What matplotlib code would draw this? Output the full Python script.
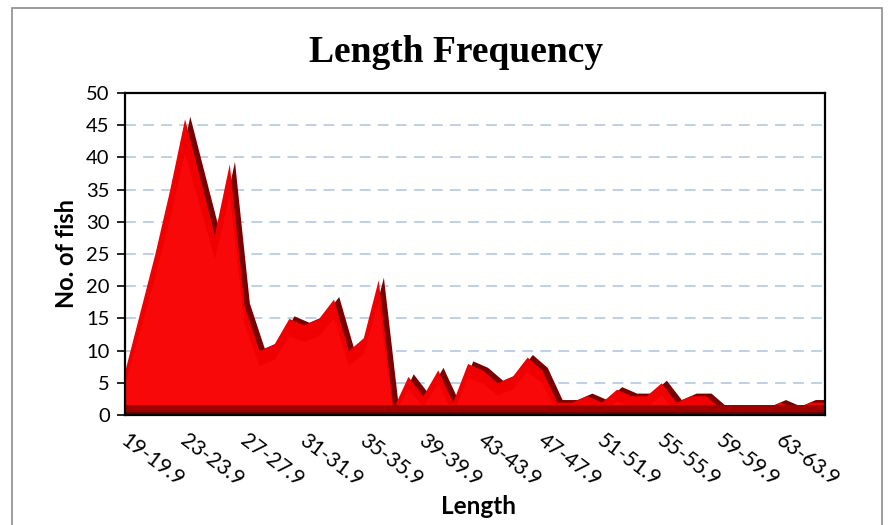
import matplotlib
matplotlib.use("Agg")
import matplotlib.pyplot as plt
import numpy as np
from matplotlib.patches import Rectangle
from matplotlib.transforms import ScaledTranslation

categories = ["19-19.9", "20-20.9", "21-21.9", "22-22.9", "23-23.9", "24-24.9", "25-25.9", "26-26.9",
              "27-27.9", "28-28.9", "29-29.9", "30-30.9", "31-31.9", "32-32.9", "33-33.9", "34-34.9",
              "35-35.9", "36-36.9", "37-37.9", "38-38.9", "39-39.9", "40-40.9", "41-41.9", "42-42.9",
              "43-43.9", "44-44.9", "45-45.9", "46-46.9", "47-47.9", "48-48.9", "49-49.9", "50-50.9",
              "51-51.9", "52-52.9", "53-53.9", "54-54.9", "55-55.9", "56-56.9", "57-57.9", "58-58.9",
              "59-59.9", "60-60.9", "61-61.9", "62-62.9", "63-63.9", "64-64.9", "65-65.9", "66-66.9"]
counts = [7, 16, 25, 35, 46, 37, 28, 39, 17, 10, 11, 15, 14, 15, 18, 10,
          12, 21, 1, 6, 3, 7, 2, 8, 7, 5, 6, 9, 7, 2, 2, 3,
          2, 4, 3, 3, 5, 2, 3, 3, 1, 1, 1, 1, 2, 1, 2, 2]
yticks = [0, 5, 10, 15, 20, 25, 30, 35, 40, 45, 50]

W, H = 888, 525
fig = plt.figure(figsize=(W / 100, H / 100), dpi=100)
ax = fig.add_axes([125 / W, (H - 415) / H, 700 / W, 322 / H])

x = np.arange(len(counts))
y = np.array(counts, dtype=float)

# grid
for v in yticks[1:-1]:
    ax.axhline(v, color="#B9CDE5", lw=1.3, ls=(0, (6, 4)), zorder=0)

# dark side (3D depth) drawn behind, shifted
ax.fill_between(x + 0.35, 0, y + 0.4, color="#7A0000", lw=0, zorder=1)
# main front face
ax.fill_between(x, 0, y, color="#F00000", lw=0, zorder=2)
# subtle lighter inner face
ax.fill_between(x, 0, np.maximum(y - 1.6, 0) * 0.92, color="#F80808", lw=0, zorder=3)
# floor band
ax.fill_between([0, len(counts) - 1], 0, 1.5, color="#9E0000", lw=0, zorder=4)
ax.fill_between([0, len(counts) - 1], 0, 0.45, color="#6A0000", lw=0, zorder=5)

ax.set_xlim(0, len(counts) - 1)
ax.set_ylim(0, 50)
ax.set_yticks(yticks)
ax.set_yticklabels([str(v) for v in yticks], fontsize=14.5, family="Lato")
ax.tick_params(axis="y", direction="out", length=6, width=1.2, pad=5)

ticks_idx = list(range(0, len(counts), 4))
ax.set_xticks(ticks_idx)
ax.set_xticklabels([categories[i] for i in ticks_idx], fontsize=15, family="Lato",
                   rotation=-37, ha="left", va="top", rotation_mode="anchor")
ax.tick_params(axis="x", length=0, pad=11)
offset = ScaledTranslation(4 / 100, 0, fig.dpi_scale_trans)
for lbl in ax.get_xticklabels():
    lbl.set_transform(lbl.get_transform() + offset)

for s in ax.spines.values():
    s.set_color("black")
    s.set_linewidth(1.6)
    s.set_zorder(10)

ax.set_ylabel("No. of fish", fontsize=17, fontweight="bold", family="Lato", labelpad=6)
fig.text(478 / W, 1 - 507 / H, "Length", fontsize=17.5, fontweight="bold", family="Lato",
         ha="center", va="center")
fig.text(456 / W, 1 - 52 / H, "Length Frequency", fontsize=27, fontweight="bold",
         family="Liberation Serif", ha="center", va="center")

# outer chart frame
fig.patches.append(Rectangle((12 / W, -0.05), (882 - 12) / W, 1 - 8 / H + 0.05,
                             transform=fig.transFigure, fill=False, ec="#8C8C8C", lw=1.2))

fig.savefig("out.png", dpi=100)
